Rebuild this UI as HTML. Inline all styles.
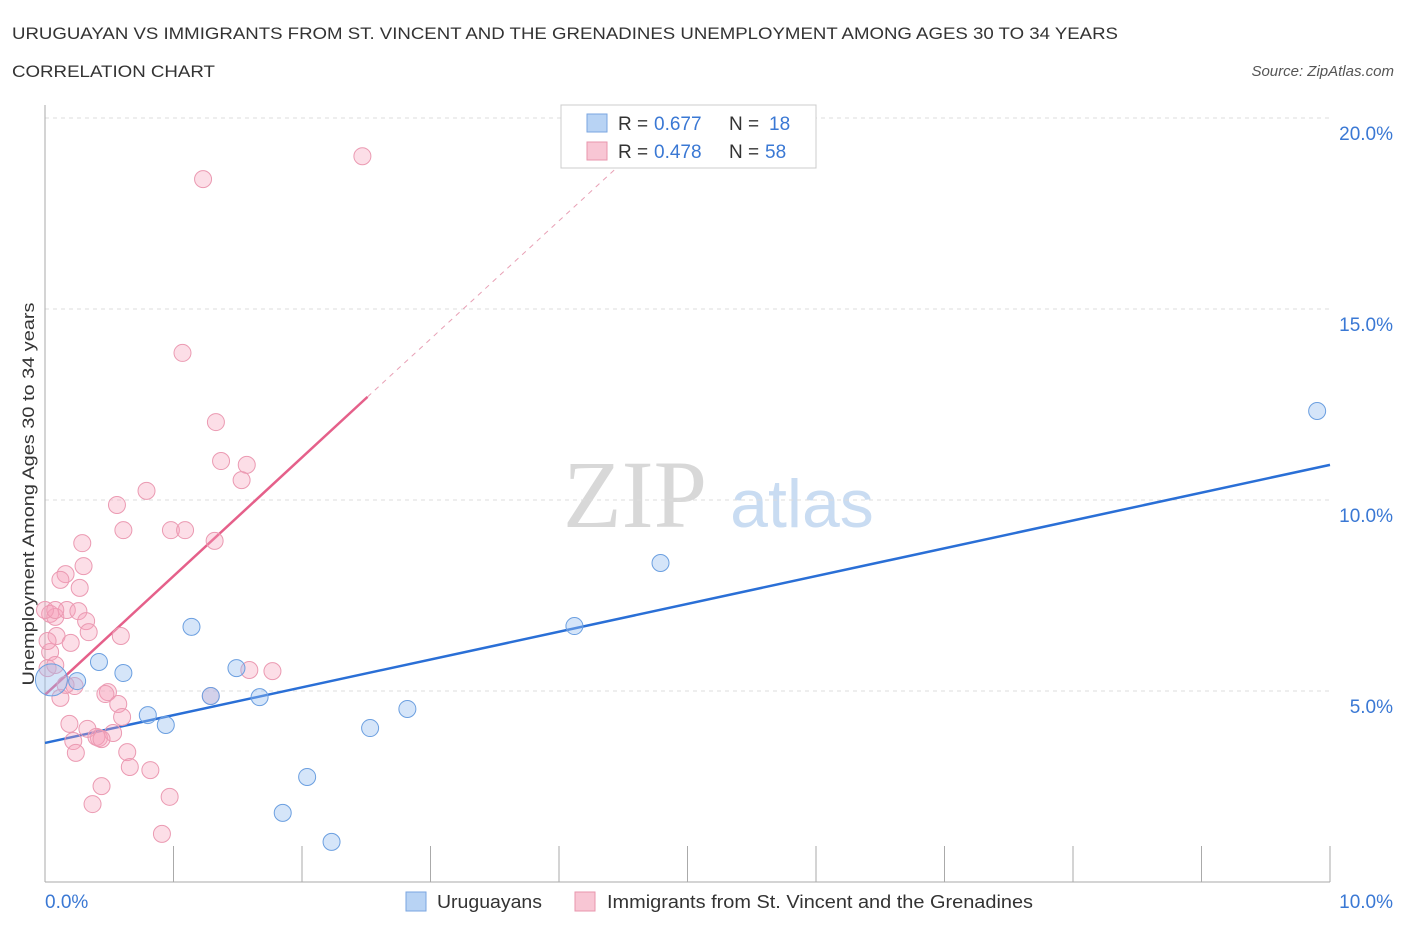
<!DOCTYPE html>
<html><head><meta charset="utf-8"><style>
body{margin:0;background:#fff;}
</style></head><body>
<svg id="c" width="1406" height="930" xmlns="http://www.w3.org/2000/svg" font-family="Liberation Sans, sans-serif">
<text x="12" y="39" font-size="17" fill="#333" textLength="1106" lengthAdjust="spacingAndGlyphs">URUGUAYAN VS IMMIGRANTS FROM ST. VINCENT AND THE GRENADINES UNEMPLOYMENT AMONG AGES 30 TO 34 YEARS</text>
<text x="12" y="77" font-size="17" fill="#333" textLength="203" lengthAdjust="spacingAndGlyphs">CORRELATION CHART</text>
<text x="1394" y="76" font-size="15" fill="#555" font-style="italic" text-anchor="end">Source: ZipAtlas.com</text>
<text x="635" y="527" font-size="96" fill="#d8d8d8" style="font-family:'Liberation Serif',serif" text-anchor="middle">ZIP</text>
<text x="802" y="527" font-size="68" fill="#c9dcf2" text-anchor="middle">atlas</text>
<text transform="translate(34,494) rotate(-90)" font-size="17" fill="#333" text-anchor="middle" textLength="383" lengthAdjust="spacingAndGlyphs">Unemployment Among Ages 30 to 34 years</text>
<g id="grid"></g><g id="axes"></g><g id="lines"></g><g id="pts"></g>
<g>
<rect x="561" y="105" width="255" height="63" fill="#fff" stroke="#ccc"/>
<rect x="587" y="114" width="20" height="18" fill="#b8d3f4" stroke="#7aa6e0"/>
<text x="618" y="130" font-size="19" fill="#333">R =</text><text x="654" y="130" font-size="19" fill="#3a78d4">0.677</text>
<text x="729" y="130" font-size="19" fill="#333">N =</text><text x="769" y="130" font-size="19" fill="#3a78d4">18</text>
<rect x="587" y="142" width="20" height="18" fill="#f8c6d4" stroke="#e896ad"/>
<text x="618" y="158" font-size="19" fill="#333">R =</text><text x="654" y="158" font-size="19" fill="#3a78d4">0.478</text>
<text x="729" y="158" font-size="19" fill="#333">N =</text><text x="765" y="158" font-size="19" fill="#3a78d4">58</text>
</g>
<g>
<rect x="406" y="892" width="20" height="19" fill="#b8d3f4" stroke="#7aa6e0"/>
<text x="437" y="908" font-size="18" fill="#333" textLength="105" lengthAdjust="spacingAndGlyphs">Uruguayans</text>
<rect x="575" y="892" width="20" height="19" fill="#f8c6d4" stroke="#e896ad"/>
<text x="607" y="908" font-size="18" fill="#333" textLength="426" lengthAdjust="spacingAndGlyphs">Immigrants from St. Vincent and the Grenadines</text>
</g>
</svg>
<script>
const blueX=[0.42,0.61,0.80,0.94,1.14,1.29,1.49,1.67,2.04,1.85,2.23,2.53,2.82,4.12,4.79,9.90,0.05,0.25];
const blueY=[5.76,5.47,4.37,4.11,6.68,4.87,5.60,4.84,2.75,1.81,1.05,4.03,4.53,6.70,8.35,12.33,5.29,5.26];
const pinkX=[2.47,1.23,1.07,1.33,1.37,1.57,1.53,0.79,0.56,0.61,0.98,1.09,1.32,0.29,0.30,0.16,0.12,0.27,0.04,0.08,0.17,0.26,0.32,0.34,0.09,0.20,0.59,0.04,0.02,0.08,0.23,0.49,0.47,0.57,0.60,0.19,0.33,0.42,0.53,0.40,0.44,0.22,0.24,0.64,0.66,0.82,0.44,0.37,0.97,0.91,1.59,1.77,1.29,0.02,0.12,0.16,0.00,0.08];
const pinkY=[19.0,18.4,13.85,12.04,11.02,10.92,10.52,10.24,9.87,9.21,9.21,9.21,8.93,8.87,8.27,8.06,7.91,7.70,7.02,6.94,7.12,7.09,6.83,6.54,6.44,6.26,6.44,6.02,5.60,5.68,5.13,4.97,4.92,4.66,4.32,4.14,4.01,3.77,3.90,3.80,3.74,3.69,3.38,3.40,3.01,2.93,2.51,2.04,2.23,1.26,5.55,5.52,4.87,6.31,4.82,5.16,7.12,7.12];
const xTicks=[0,10], yTicks=[5,10,15,20];
const blueLine=[[0,3.64],[10,10.92]];
const pinkLine=[[0,4.9],[2.51,12.7]], pinkDash=[[2.51,12.7],[4.45,18.7]];
const X=v=>45+v*128.5, Y=v=>882-v*38.2;
const NS="http://www.w3.org/2000/svg";
function mk(t,a,p){const e=document.createElementNS(NS,t);for(const k in a)e.setAttribute(k,a[k]);document.getElementById(p).appendChild(e);return e;}
yTicks.forEach(t=>{
 const g=mk('line',{x1:45,x2:1330,y1:Y(t),y2:Y(t),stroke:'#ddd','stroke-dasharray':'4,4'},'grid');
 
 
 const l=mk('text',{x:1393,y:Y(t)+22,'font-size':19,fill:'#3a78d4','text-anchor':'end'},'axes');l.textContent=t.toFixed(1)+'%';
 
 
});
const yl=mk('line',{x1:45,x2:45,y1:105,y2:882,stroke:'#aaa'},'axes');


const xl=mk('line',{x1:45,x2:1330,y1:882,y2:882,stroke:'#aaa'},'axes');


for(let i=0;i<=10;i++){const tk=mk('line',{x1:X(i),x2:X(i),y1:846,y2:882,stroke:'#aaa'},'axes');
 
 }
xTicks.forEach((t,i)=>{const l=mk('text',{x:i?1393:45,y:908,'font-size':19,fill:'#3a78d4','text-anchor':i?'end':'start'},'axes');l.textContent=t.toFixed(1)+'%';
 
 });
function ln(p,c,w,d,n){const e=mk('line',{x1:X(p[0][0]),y1:Y(p[0][1]),x2:X(p[1][0]),y2:Y(p[1][1]),stroke:c,'stroke-width':w},'lines');if(d)e.setAttribute('stroke-dasharray',d);
 
 }
pinkX.forEach((x,i)=>{const c=mk('circle',{cx:X(x),cy:Y(pinkY[i]),r:8.5,fill:'rgba(245,160,185,0.35)',stroke:'#eb9ab2','stroke-width':1},'pts');
 
 });
blueX.forEach((x,i)=>{const c=mk('circle',{cx:X(x),cy:Y(blueY[i]),r:i==16?16:8.5,fill:'rgba(150,190,240,0.4)',stroke:'#6b9fe0','stroke-width':1},'pts');
 
 });
ln(blueLine,'#2a6fd6',2.5,null,'uruguayan-trendline');
ln(pinkLine,'#e5608a',2.5,null,'immigrant-trendline');
ln(pinkDash,'#e8a0b5',1,'5,5','immigrant-trendline-extension');
</script>
</body></html>
